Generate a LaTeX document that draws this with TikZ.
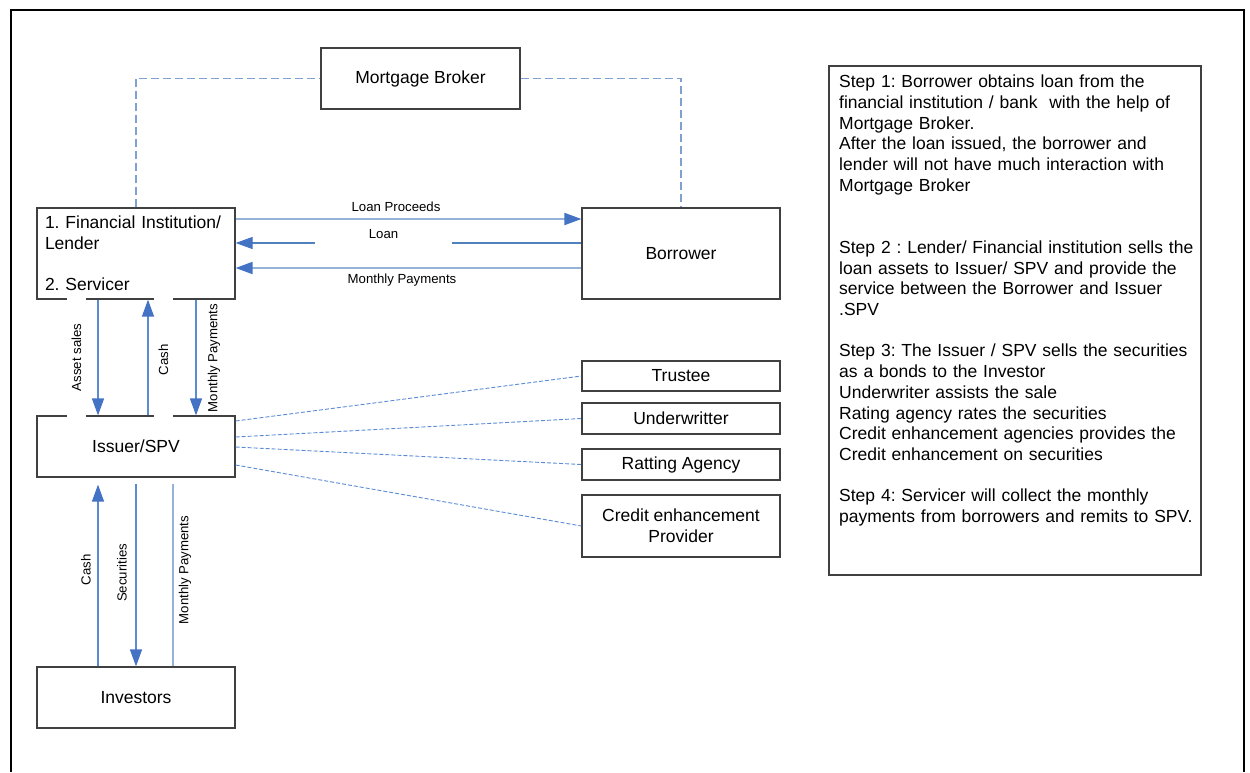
\documentclass[tikz,border=0pt]{standalone}
\usepackage{fontspec}
\setmainfont{Liberation Sans}
\usetikzlibrary{arrows.meta}
\frenchspacing
\definecolor{lblue}{RGB}{149,179,215}
\definecolor{mblue}{RGB}{79,129,189}
\definecolor{tblue}{RGB}{68,114,196}
\definecolor{vblue}{RGB}{91,139,208}
\definecolor{dblue}{RGB}{127,160,210}
\definecolor{iblue}{RGB}{91,139,214}
\definecolor{boxgray}{RGB}{64,64,64}
\begin{document}
\begin{tikzpicture}[x=1pt,y=-1pt,
  box/.style={draw=boxgray, line width=1.2pt, inner sep=0, fill=white,
    font=\fontsize{17.5}{20.7}\selectfont, align=center},
  lbl/.style={font=\fontsize{13.2}{15}\selectfont, inner sep=0},
  tip/.style={-{Triangle[length=17pt,width=12pt,color=tblue]}},
  thinline/.style={lblue, line width=1.8pt},
  darkline/.style={mblue, line width=1.2pt},
  vline/.style={vblue, line width=1.3pt},
  bdash/.style={dblue, line width=1.2pt, dash pattern=on 8pt off 4pt},
  idash/.style={iblue, line width=0.9pt, dash pattern=on 4pt off 2pt}]
\useasboundingbox (0,0) rectangle (1250,772);
\draw[black, line width=2pt] (11,772) -- (11,10) -- (1244,10) -- (1244,772);

% boxes
\node[box, minimum width=199pt, minimum height=61pt] (broker) at (420.5,78.5) {Mortgage Broker};
\node[box, minimum width=198pt, minimum height=91pt, text width=182pt, align=left] (lender) at (136,253.5)
  {1. Financial Institution/\\Lender\\[20.7pt]2. Servicer};
\node[box, minimum width=198pt, minimum height=91pt] (borrower) at (681,253.5) {Borrower};
\node[box, minimum width=198pt, minimum height=61pt] (issuer) at (136,446.5) {Issuer/SPV};
\node[box, minimum width=198pt, minimum height=61pt] (investors) at (136,697.5) {Investors};
\node[box, minimum width=198pt, minimum height=30pt] (trustee) at (681,376) {Trustee};
\node[box, minimum width=198pt, minimum height=31pt] (under) at (681,418.5) {Underwritter};
\node[box, minimum width=198pt, minimum height=31pt] (rating) at (681,464.5) {Ratting Agency};
\node[box, minimum width=198pt, minimum height=62pt] (credit) at (681,526) {Credit enhancement\\Provider};
\node[draw=boxgray, line width=1.2pt, minimum width=372pt, minimum height=509pt, inner sep=0] (stepsbox) at (1015,320.5) {};
\node[anchor=north west, inner sep=0, text width=365pt, align=left,
  font=\fontsize{17.5}{20.7}\selectfont] (steps) at (839,75) {%
Step 1: Borrower obtains loan from the\\
financial institution / bank~ with the help of\\
Mortgage Broker.\\
After the loan issued, the borrower and\\
lender will not have much interaction with\\
Mortgage Broker\\[41.4pt]
Step 2 : Lender/ Financial institution sells the\\
loan assets to Issuer/ SPV and provide the\\
service between the Borrower and Issuer\\
.SPV\\[20.7pt]
Step 3: The Issuer / SPV sells the securities\\
as a bonds to the Investor\\
Underwriter assists the sale\\
Rating agency rates the securities\\
Credit enhancement agencies provides the\\
Credit enhancement on securities\\[20.7pt]
Step 4: Servicer will collect the monthly\\
payments from borrowers and remits to SPV.};

% dashed links
\draw[bdash] (lender.north) |- (broker.west);
\draw[bdash] (broker.east) -| (borrower.north);
\draw[idash] ([yshift=25.5pt]issuer.east) -- (trustee.west);
\draw[idash] ([yshift=9.5pt]issuer.east) -- (under.west);
\draw[idash] ([yshift=-0.5pt]issuer.east) -- (rating.west);
\draw[idash] ([yshift=-18.5pt]issuer.east) -- (credit.west);

% horizontal flows
\draw[thinline, tip] ([yshift=34.5pt]lender.east) -- ([yshift=34.5pt]borrower.west);
\draw[darkline, tip] ([yshift=10.5pt]borrower.west) -- ([yshift=10.5pt]lender.east);
\draw[thinline, tip] ([yshift=-14.5pt]borrower.west) -- ([yshift=-14.5pt]lender.east);

% labels
\node[lbl] (lpl) at (396,207) {Loan Proceeds};
\node[lbl, fill=white, text depth=8pt, minimum width=137pt, anchor=base] (lnl) at (383.5,238.7) {Loan};
\node[lbl] (mpl) at (402,280) {Monthly Payments};
\node[lbl, rotate=90, fill=white, minimum width=125pt, minimum height=19pt] (asl) at (76.5,357.5) {Asset sales};
\node[lbl, rotate=90, fill=white, minimum width=125pt, minimum height=19pt] (c1l) at (163.5,360) {Cash};
\node[lbl, rotate=90] (mp1l) at (214,358) {Monthly Payments};
\node[lbl, rotate=90] (c2l) at (86,570) {Cash};
\node[lbl, rotate=90] (sl) at (122,573) {Securities};
\node[lbl, rotate=90] (mp2l) at (185,570) {Monthly Payments};

% vertical flows
\draw[vline, tip] ([xshift=-38pt]lender.south) -- ([xshift=-38pt]issuer.north);
\draw[vline, tip] ([xshift=12pt]issuer.north) -- ([xshift=12pt]lender.south);
\draw[vline, tip] ([xshift=60pt]lender.south) -- ([xshift=60pt]issuer.north);
\draw[vline, tip, shorten >=7pt] ([xshift=-38pt]investors.north) -- ([xshift=-38pt]issuer.south);
\draw[vline, tip, shorten <=6pt] (issuer.south) -- (investors.north);
\draw[thinline, shorten <=6pt] ([xshift=37pt]issuer.south) -- ([xshift=37pt]investors.north);
\end{tikzpicture}
\end{document}
